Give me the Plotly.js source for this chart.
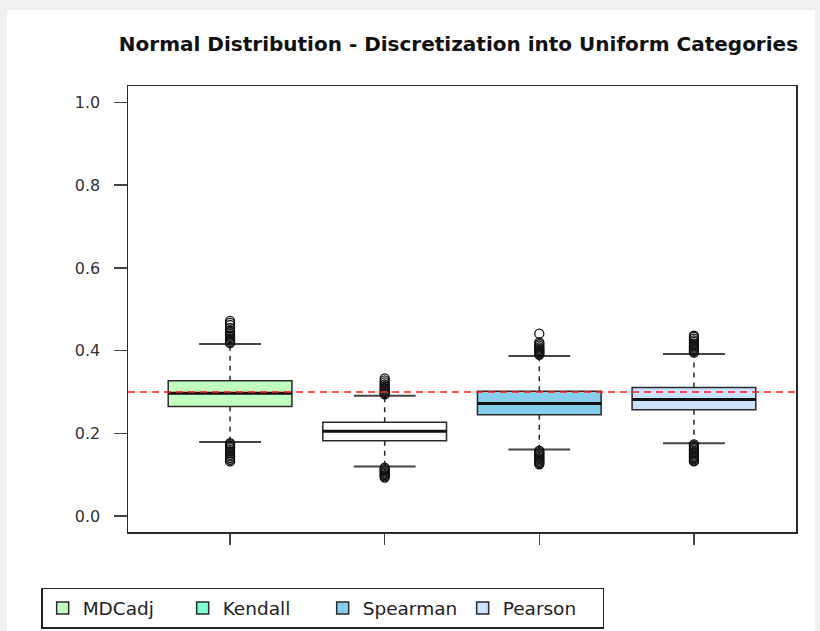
<!DOCTYPE html>
<html>
<head>
<meta charset="utf-8">
<script src="https://cdn.plot.ly/plotly-3.0.1.min.js"></script>
<style>
  html, body { margin: 0; padding: 0; background: #eff0f2; }
  #panel { position: absolute; left: 7px; top: 10px; width: 808px; height: 621px; background: #ffffff; }
  #chart { position: absolute; left: 0; top: 0; width: 820px; height: 631px; }
</style>
</head>
<body>
<div id="panel"></div>
<div id="chart"></div>
<script>
// ---- data ----
const categories = ['MDCadj', 'Kendall', 'Spearman', 'Pearson'];
const positions = [1, 2, 3, 4];
const q1 = [0.265, 0.182, 0.245, 0.257];
const median = [0.297, 0.205, 0.272, 0.282];
const q3 = [0.327, 0.227, 0.302, 0.311];
const lowerWhisker = [0.179, 0.120, 0.161, 0.176];
const upperWhisker = [0.416, 0.291, 0.387, 0.392];
const outliersMDCadj = [0.418, 0.421, 0.424, 0.427, 0.43, 0.433, 0.436, 0.44, 0.444, 0.448, 0.455, 0.462, 0.467, 0.472,
                        0.176, 0.173, 0.17, 0.167, 0.164, 0.16, 0.156, 0.152, 0.148, 0.144, 0.14, 0.136, 0.132];
const outliersKendall = [0.294, 0.297, 0.3, 0.303, 0.306, 0.31, 0.314, 0.318, 0.323, 0.328, 0.333,
                         0.117, 0.114, 0.111, 0.108, 0.105, 0.102, 0.099, 0.096, 0.093];
const outliersSpearman = [0.39, 0.393, 0.396, 0.399, 0.402, 0.405, 0.408, 0.412, 0.416, 0.42, 0.441,
                          0.158, 0.155, 0.152, 0.149, 0.146, 0.143, 0.14, 0.137, 0.134, 0.131, 0.128, 0.125];
const outliersPearson = [0.395, 0.398, 0.401, 0.404, 0.407, 0.41, 0.413, 0.417, 0.421, 0.425, 0.429, 0.433, 0.436,
                         0.173, 0.17, 0.167, 0.164, 0.161, 0.158, 0.155, 0.152, 0.149, 0.146, 0.143, 0.14, 0.137, 0.134, 0.132];
const outliers = [outliersMDCadj, outliersKendall, outliersSpearman, outliersPearson];
const referenceLine = 0.3;
const yTicks = [0.0, 0.2, 0.4, 0.6, 0.8, 1.0];
const yTickText = ['0.0', '0.2', '0.4', '0.6', '0.8', '1.0'];
const titleText = 'Normal Distribution - Discretization into Uniform Categories';

// ---- styles ----
const boxFill = ['#C1FFC1', '#FFFFFF', '#87CEEB', '#CAE1FF'];
const legendFill = ['#C1FFC1', '#7FFFD4', '#87CEEB', '#CAE1FF'];
const boxWidth = 0.8;
const capHalf = 0.2;
const ink = '#2a2a2a';
const font = 'DejaVu Sans, Arial, sans-serif';

const traces = [];
categories.forEach((c, i) => {
  const x = positions[i];
  // whiskers (dashed)
  traces.push({ type: 'scatter', mode: 'lines', x: [x, x, null, x, x],
    y: [q3[i], upperWhisker[i], null, q1[i], lowerWhisker[i]],
    line: { color: ink, width: 1.5, dash: '5px,5px' }, showlegend: false, hoverinfo: 'skip' });
  // staples
  traces.push({ type: 'scatter', mode: 'lines', x: [x - capHalf, x + capHalf, null, x - capHalf, x + capHalf],
    y: [upperWhisker[i], upperWhisker[i], null, lowerWhisker[i], lowerWhisker[i]],
    line: { color: '#444', width: 2 }, showlegend: false, hoverinfo: 'skip' });
  // box
  traces.push({ type: 'box', x: [x], q1: [q1[i]], median: [median[i]], q3: [q3[i]],
    lowerfence: [q1[i]], upperfence: [q3[i]], width: boxWidth, whiskerwidth: 0,
    fillcolor: boxFill[i], line: { color: ink, width: 1.5 }, boxpoints: false,
    showlegend: false, name: c, hoverinfo: 'skip' });
  // thick median
  traces.push({ type: 'scatter', mode: 'lines', x: [x - boxWidth / 2, x + boxWidth / 2],
    y: [median[i], median[i]], line: { color: '#111', width: 3 }, showlegend: false, hoverinfo: 'skip' });
  // outliers
  traces.push({ type: 'scatter', mode: 'markers', x: outliers[i].map(() => x), y: outliers[i],
    marker: { symbol: 'circle-open', size: 9, color: '#111', line: { width: 1.3, color: '#111' } },
    showlegend: false, hoverinfo: 'skip' });
});
// legend entries
categories.forEach((c, i) => {
  traces.push({ type: 'scatter', mode: 'markers', x: [null], y: [null], name: c,
    marker: { symbol: 'square', size: 12, color: legendFill[i], line: { color: ink, width: 1.5 } } });
});

const layout = {
  width: 820, height: 631,
  paper_bgcolor: 'rgba(0,0,0,0)', plot_bgcolor: '#ffffff',
  margin: { l: 128, r: 24, t: 86, b: 99, pad: 0, autoexpand: false },
  title: { text: '<b>' + titleText + '</b>', font: { family: font, size: 20, color: '#111' },
           x: 0.5591, xanchor: 'center', y: 0.93, yanchor: 'middle' },
  showlegend: true,
  legend: { orientation: 'h', x: -0.13, xanchor: 'left', y: -0.1255, yanchor: 'top',
            bordercolor: '#222', borderwidth: 1.5, bgcolor: '#ffffff',
            font: { family: font, size: 18.5, color: '#222' },
            entrywidth: 95, entrywidthmode: 'pixels', itemclick: false },
  xaxis: { range: [0.34, 4.66], tickvals: positions, ticktext: ['', '', '', ''],
           ticks: 'outside', ticklen: 11, tickwidth: 1.5, tickcolor: '#444',
           showline: true, linecolor: ink, linewidth: 1.5, mirror: true,
           showgrid: false, zeroline: false, fixedrange: true },
  yaxis: { range: [-0.0387, 1.040], tickvals: yTicks, ticktext: yTickText,
           ticks: 'outside', ticklen: 13, tickwidth: 1.5, tickcolor: '#444',
           ticklabelstandoff: 10,
           tickfont: { family: font, size: 16, color: '#333' },
           showline: true, linecolor: ink, linewidth: 1.5, mirror: true,
           showgrid: false, zeroline: false, fixedrange: true },
  shapes: [{ type: 'line', xref: 'paper', x0: 0, x1: 1, yref: 'y', y0: referenceLine, y1: referenceLine,
             line: { color: '#ff1a1a', width: 1.5, dash: '7px,5px' }, layer: 'above' }]
};

Plotly.newPlot('chart', traces, layout, { displayModeBar: false, staticPlot: true });
</script>
</body>
</html>
